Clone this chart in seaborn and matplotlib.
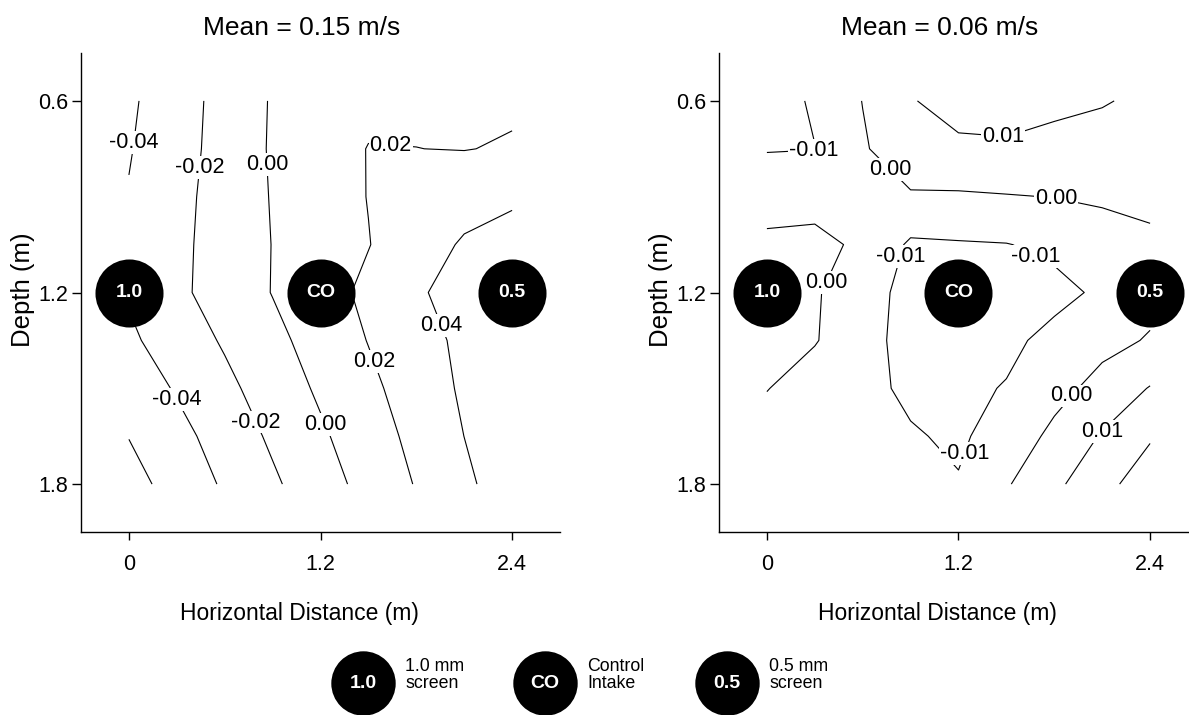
import numpy as np
import matplotlib
matplotlib.use("Agg")
import matplotlib.pyplot as plt
import seaborn as sns

# ---------------- data ----------------
x_nodes = [0.0, 0.3, 0.6, 0.9, 1.2, 1.5, 1.8, 2.1, 2.4]
depth_nodes = [0.6, 0.75, 0.9, 1.05, 1.2, 1.35, 1.5, 1.65, 1.8]

# left panel (mean = 0.15 m/s), rows = depth, cols = x
vel_left = [
    [-0.0431, -0.0284, -0.0135, 0.0016, 0.0105, 0.0160, 0.0175, 0.0170, 0.0175],
    [-0.0412, -0.0274, -0.0130, 0.0020, 0.0118, 0.0205, 0.0201, 0.0195, 0.0215],
    [-0.0390, -0.0256, -0.0121, 0.0011, 0.0108, 0.0205, 0.0270, 0.0330, 0.0380],
    [-0.0380, -0.0245, -0.0118, 0.0004, 0.0099, 0.0194, 0.0314, 0.0420, 0.0450],
    [-0.0380, -0.0240, -0.0115, 0.0006, 0.0122, 0.0242, 0.0380, 0.0460, 0.0500],
    [-0.0433, -0.0306, -0.0179, -0.0050, 0.0078, 0.0206, 0.0330, 0.0439, 0.0480],
    [-0.0518, -0.0382, -0.0247, -0.0108, 0.0029, 0.0157, 0.0291, 0.0428, 0.0490],
    [-0.0595, -0.0460, -0.0317, -0.0169, -0.0028, 0.0110, 0.0251, 0.0401, 0.0520],
    [-0.0672, -0.0523, -0.0376, -0.0230, -0.0083, 0.0064, 0.0211, 0.0360, 0.0510],
]
# right panel (mean = 0.06 m/s)
vel_right = [
    [-0.0160, -0.0084, 0.0002, 0.0095, 0.0130, 0.0135, 0.0115, 0.0105, 0.0085],
    [-0.0105, -0.0102, -0.0010, 0.0060, 0.0085, 0.0088, 0.0080, 0.0070, 0.0055],
    [-0.0040, -0.0020, -0.0030, -0.0010, -0.0012, -0.0005, 0.0002, 0.0015, 0.0025],
    [0.0020, 0.0015, -0.0010, -0.0115, -0.0108, -0.0103, -0.0080, -0.0050, -0.0020],
    [0.0040, 0.0010, -0.0060, -0.0130, -0.0145, -0.0140, -0.0125, -0.0085, -0.0030],
    [0.0030, 0.0006, -0.0065, -0.0135, -0.0150, -0.0120, -0.0075, -0.0030, 0.0008],
    [0.0003, -0.0045, -0.0078, -0.0115, -0.0120, -0.0095, -0.0035, 0.0035, 0.0105],
    [-0.0040, -0.0060, -0.0075, -0.0093, -0.0112, -0.0065, 0.0025, 0.0108, 0.0190],
    [-0.0050, -0.0065, -0.0075, -0.0085, -0.0095, -0.0009, 0.0079, 0.0168, 0.0256],
]

labeled_left = [-0.04, -0.02, 0.0, 0.02, 0.04]
unlabeled_left = [-0.06]
labeled_right = [-0.01, 0.0, 0.01]
unlabeled_right = [0.02]

titles = ["Mean = 0.15 m/s", "Mean = 0.06 m/s"]

intake_x = [0.0, 1.2, 2.4]
intake_depth = [1.2, 1.2, 1.2]
intake_codes = ["1.0", "CO", "0.5"]
legend_text = ["1.0 mm\nscreen", "Control\nIntake", "0.5 mm\nscreen"]

x_ticks = [0, 1.2, 2.4]
x_ticklabels = ["0", "1.2", "2.4"]
y_ticks = [0.6, 1.2, 1.8]
y_ticklabels = ["0.6", "1.2", "1.8"]

# label placement hints (layout, near which contour labels sit)
label_pos_left = [(0.03, 0.73), (0.45, 0.81), (0.856, 0.80), (1.64, 0.73),
                  (0.297, 1.537), (0.787, 1.608), (1.233, 1.612),
                  (1.526, 1.417), (1.94, 1.307)]
label_pos_right = [(0.29, 0.752), (1.479, 0.721), (0.688, 0.857), (1.815, 0.895),
                   (0.798, 1.083), (1.677, 1.097), (1.259, 1.709),
                   (0.365, 1.167), (1.886, 1.514), (2.079, 1.626)]

# ---------------- style ----------------
sns.set_theme(style="ticks")
plt.rcParams["font.family"] = ["Liberation Sans", "DejaVu Sans"]
plt.rcParams["axes.edgecolor"] = "black"
plt.rcParams["xtick.color"] = "black"
plt.rcParams["ytick.color"] = "black"
plt.rcParams["text.color"] = "black"
plt.rcParams["axes.labelcolor"] = "black"
plt.rcParams["contour.negative_linestyle"] = "solid"

W, H = 1189, 715
fig = plt.figure(figsize=(W / 100, H / 100), dpi=100)

ax_w = 479 / W
ax_h = 479 / H
ax_bottom = (H - 532) / H
axes = [fig.add_axes([81 / W, ax_bottom, ax_w, ax_h]),
        fig.add_axes([719 / W, ax_bottom, ax_w, ax_h])]

X, Y = np.meshgrid(x_nodes, depth_nodes)
panels = [(vel_left, labeled_left, unlabeled_left, label_pos_left),
          (vel_right, labeled_right, unlabeled_right, label_pos_right)]

for ax, (vel, lab, unlab, lpos), title in zip(axes, panels, titles):
    Z = np.array(vel)
    cs = ax.contour(X, Y, Z, levels=lab, colors="black", linewidths=0.8,
                    linestyles="solid")
    texts = ax.clabel(cs, manual=lpos, inline=False, fmt="%.2f",
                      fontsize=15.5)
    for t in texts:
        t.set_rotation(0)
        t.set_bbox(dict(facecolor="white", edgecolor="none", pad=0.6))
        t.set_zorder(4)
    ax.contour(X, Y, Z, levels=unlab, colors="black", linewidths=0.8,
               linestyles="solid")
    sns.scatterplot(x=intake_x, y=intake_depth, ax=ax, s=2400, color="black",
                    linewidth=0, zorder=5, legend=False)
    for xi, yi, code in zip(intake_x, intake_depth, intake_codes):
        ax.text(xi, yi, code, ha="center", va="center", color="white",
                fontsize=14, fontweight="bold", zorder=6)
    ax.set_xlim(-0.3, 2.7)
    ax.set_ylim(1.95, 0.45)
    ax.set_xticks(x_ticks)
    ax.set_xticklabels(x_ticklabels)
    ax.set_yticks(y_ticks)
    ax.set_yticklabels(y_ticklabels)
    ax.tick_params(axis="x", length=6, width=1, pad=10, labelsize=15.5)
    ax.tick_params(axis="y", length=6.5, width=1, pad=3, labelsize=15.5)
    for s in ["left", "bottom"]:
        ax.spines[s].set_linewidth(1)
    sns.despine(ax=ax)
    ax.set_xlabel("Horizontal Distance (m)", fontsize=16.5)
    ax.set_ylabel("Depth (m)", fontsize=18.5)
    ax.xaxis.set_label_coords(0.455, -0.147)
    ax.yaxis.set_label_coords(-0.095, 0.505)
    ax.set_title(title, fontsize=19, x=0.46, pad=13)

# ---------------- bottom key ----------------
leg_ax = fig.add_axes([0, 0, 1, 71.5 / H])
leg_ax.set_xlim(0, W)
leg_ax.set_ylim(0, 71.5)
leg_ax.axis("off")
key_x = [363, 545, 727]
sns.scatterplot(x=key_x, y=[32] * 3, ax=leg_ax, s=2150, color="black",
                linewidth=0, legend=False)
for kx, code, txt in zip(key_x, intake_codes, legend_text):
    leg_ax.text(kx, 32, code, ha="center", va="center", color="white",
                fontsize=14, fontweight="bold")
    leg_ax.text(kx + 42, 40, txt, ha="left", va="center", fontsize=12.8,
                linespacing=0.95)

fig.savefig("out.png", dpi=100)
